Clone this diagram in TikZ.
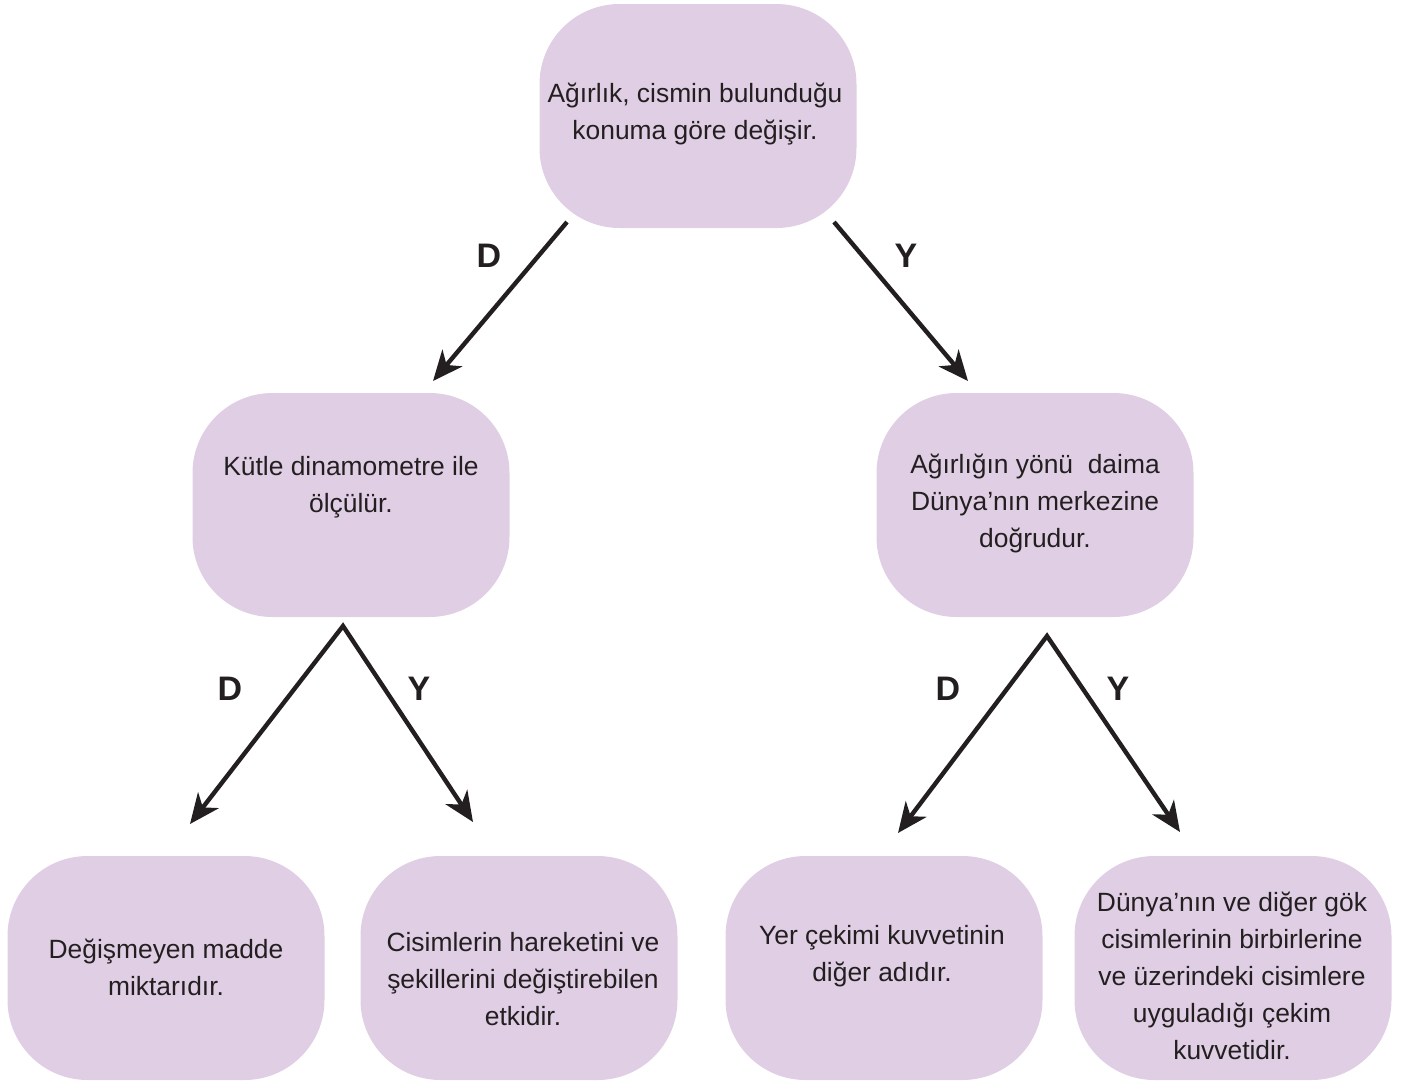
\documentclass[tikz,border=0pt]{standalone}
\usepackage{fontspec}
\setmainfont{Liberation Sans}
\usetikzlibrary{arrows.meta}
\definecolor{boxfill}{HTML}{E0CEE4}
\definecolor{ink}{HTML}{231F20}
\begin{document}
\begin{tikzpicture}[x=0.5pt,y=-0.5pt,
  card/.style={fill=boxfill, rounded corners=40pt, minimum width=158.5pt,
    minimum height=112pt, inner sep=0pt},
  caption/.style={text=ink, align=center, font=\fontsize{13.2}{18.5}\selectfont, inner sep=0pt},
  tip/.tip={Stealth[length=15pt,width=13pt,inset=4.5pt]},
  branch/.style={line width=2.2pt, draw=ink, line join=miter, -tip},
  fork/.style={line width=2.2pt, draw=ink, line join=miter, tip-tip},
  answer/.style={text=ink, font=\fontsize{17}{20}\selectfont\bfseries, inner sep=0pt}]
\useasboundingbox (0,0) rectangle (1405,1084);

% boxes
\node[card] (top) at (698,116) {};
\node[card] (kutle) at (351,505) {};
\node[card] (yon) at (1035,505) {};
\node[card] (madde) at (166,968) {};
\node[card] (etki) at (519,968) {};
\node[card] (yer) at (884,968) {};
\node[card] (dunya) at (1233,968) {};

% box texts
\node[caption] (ttop) at (695,114) {Ağırlık, cismin bulunduğu\\konuma göre değişir.};
\node[caption] (tkutle) at (351,487) {Kütle dinamometre ile\\ölçülür.};
\node[caption] (tyon) at (1035,503) {Ağırlığın yönü~~daima\\Dünya’nın merkezine\\doğrudur.};
\node[caption] (tmadde) at (166,967) {Değişmeyen madde\\miktarıdır.};
\node[caption] (tetki) at (523,979) {Cisimlerin hareketini ve\\şekillerini değiştirebilen\\etkidir.};
\node[caption] (tyer) at (882,956) {Yer çekimi kuvvetinin\\diğer adıdır.};
\node[caption] (tdunya) at (1232,976) {Dünya’nın ve diğer gök\\cisimlerinin birbirlerine\\ve üzerindeki cisimlere\\uyguladığı çekim\\kuvvetidir.};

% connector end points
\coordinate (s1) at (567,222);
\coordinate (e1) at (433,381);
\coordinate (s2) at (834,222);
\coordinate (e2) at (968,381);
\coordinate (p3) at (343,626);
\coordinate (e3) at (190,824);
\coordinate (e4) at (473,822);
\coordinate (p5) at (1047,636);
\coordinate (e5) at (898,833);
\coordinate (e6) at (1180,832);

\draw[branch] (s1) -- (e1);
\draw[branch] (s2) -- (e2);
\draw[fork] (e3) -- (p3) -- (e4);
\draw[fork] (e5) -- (p5) -- (e6);

% answer labels
\node[answer] (d1) at (489,256) {D};
\node[answer] (y1) at (906,256) {Y};
\node[answer] (d2) at (230,689) {D};
\node[answer] (y2) at (419,689) {Y};
\node[answer] (d3) at (948,689) {D};
\node[answer] (y3) at (1118,689) {Y};
\end{tikzpicture}
\end{document}
